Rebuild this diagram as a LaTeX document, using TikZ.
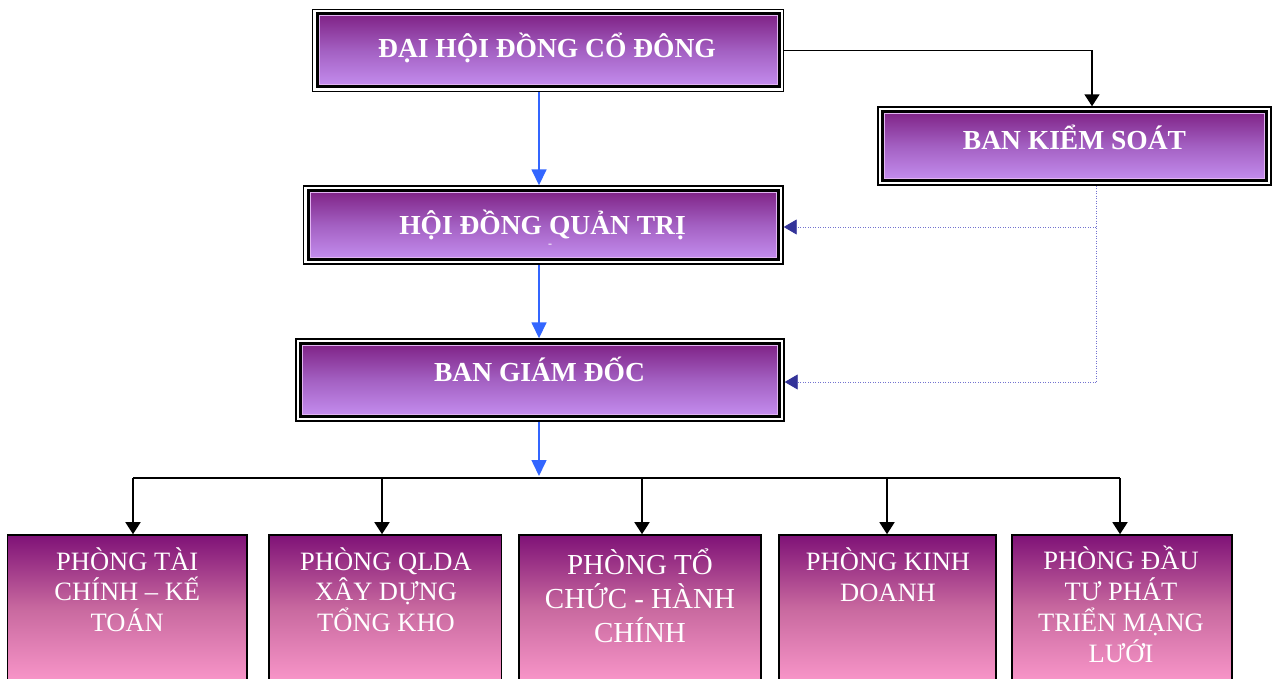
\documentclass[tikz,border=0pt]{standalone}
\usepackage{fontspec}
\setmainfont{Liberation Serif}
\usetikzlibrary{arrows.meta,calc}
\definecolor{tpA}{HTML}{7A1A7E}
\definecolor{tpM}{HTML}{A360C2}
\definecolor{tpB}{HTML}{C994F5}
\definecolor{dpA}{HTML}{7F1277}
\definecolor{dpM}{HTML}{C8699F}
\definecolor{dpB}{HTML}{F996C9}
\definecolor{lilacl}{HTML}{E2B4F2}
\definecolor{blu}{HTML}{3366FF}
\definecolor{navyc}{HTML}{333399}
\definecolor{dotc}{HTML}{7373D0}
\begin{document}
\begin{tikzpicture}[x=1pt,y=-1pt,
 topbox/.style={rectangle, draw=black, line width=1.4pt, inner sep=0pt, path picture={
   \shade[top color=tpA, bottom color=tpB, middle color=tpM] ([shift={(5pt,5pt)}]path picture bounding box.south west) rectangle ([shift={(-5pt,-5pt)}]path picture bounding box.north east);
   \draw[lilacl, line width=1pt] ([shift={(6.5pt,6.5pt)}]path picture bounding box.south west) rectangle ([shift={(-6.5pt,-6.5pt)}]path picture bounding box.north east);
   \draw[black, line width=3pt] ([shift={(4.5pt,4.5pt)}]path picture bounding box.south west) rectangle ([shift={(-4.5pt,-4.5pt)}]path picture bounding box.north east);
 }},
 toptext/.style={text=white, font=\fontsize{27.5}{33}\selectfont\bfseries, inner sep=0pt, anchor=base},
 dept/.style={rectangle, draw=black, line width=1.6pt, inner sep=0pt, top color=dpA, bottom color=dpB, middle color=dpM, minimum height=147pt},
 depttext/.style={text=white, align=center, inner sep=0pt, anchor=north, font=\fontsize{26.5}{30.5}\selectfont},
 blk/.style={draw=black, line width=1.6pt, -{Triangle[width=15pt,length=12pt]}},
 bluarr/.style={draw=blu, line width=1.6pt, -{Triangle[width=15pt,length=16pt]}},
 dotl/.style={draw=dotc, line width=0.8pt, dash pattern=on 1pt off 1.5pt},
 dotarr/.style={dotl, -{Triangle[width=15pt,length=13pt,color=navyc]}}
]
\useasboundingbox (0,0) rectangle (1273,679);
\clip (0,0) rectangle (1273,679);

% top boxes
\node[topbox, minimum width=471pt, minimum height=82pt] (dh) at (548,50.5) {};
\node[topbox, minimum width=393pt, minimum height=78pt] (bks) at (1074.5,146) {};
\node[topbox, minimum width=479.5pt, minimum height=78pt] (hq) at (543.25,225) {};
\node[topbox, minimum width=488pt, minimum height=82pt] (bg) at (540,380) {};

\node[toptext] (dhT) at (547,58) {ĐẠI HỘI ĐỒNG CỔ ĐÔNG};
\node[toptext] (bksT) at (1074.5,150) {BAN KIỂM SOÁT};
\node[toptext] (hqT) at (542.5,234) {HỘI ĐỒNG QUẢN TRỊ};
\node[text=white, inner sep=0pt, font=\fontsize{12}{12}\selectfont] (hqD) at (550,246) {-};
\node[toptext] (bgT) at (539.5,381) {BAN GIÁM ĐỐC};

% department boxes
\node[dept, minimum width=239.5pt] (d1) at (127.25,608.5) {};
\node[dept, minimum width=232.7pt] (d2) at (385.3,608.5) {};
\node[dept, minimum width=242pt] (d3) at (640,608.5) {};
\node[dept, minimum width=217pt] (d4) at (887.5,608.5) {};
\node[dept, minimum width=220pt] (d5) at (1122,608.5) {};

\node[depttext] (d1T) at (127.25,544) {\rule{0pt}{26pt}PHÒNG TÀI\\CHÍNH – KẾ\\TOÁN};
\node[depttext] (d2T) at (386,544) {\rule{0pt}{26pt}PHÒNG QLDA\\XÂY DỰNG\\TỔNG KHO};
\node[depttext, font=\fontsize{29}{34}\selectfont] (d3T) at (640,544) {\rule{0pt}{30pt}PHÒNG TỔ\\CHỨC - HÀNH\\CHÍNH};
\node[depttext, font=\fontsize{26.5}{31.5}\selectfont] (d4T) at (888,544) {\rule{0pt}{26pt}PHÒNG KINH\\DOANH};
\node[depttext, font=\fontsize{26.5}{31}\selectfont] (d5T) at (1121,543) {\rule{0pt}{26pt}PHÒNG ĐẦU\\TƯ PHÁT\\TRIỂN MẠNG\\LƯỚI};

% connectors
\coordinate (ax) at (539,0);
\draw[blk] (dh.east) -| ([xshift=17.5pt]bks.north);
\draw[bluarr] (dh.south -| ax) -- (hq.north -| ax);
\draw[bluarr] (hq.south -| ax) -- (bg.north -| ax);

\coordinate (busL) at (133,478);
\coordinate (busR) at (1120,478);
\draw[bluarr, shorten >=2pt] (bg.south -| ax) -- (busL -| ax);
\draw[black, line width=1.6pt] (busL) -- (busR);
\coordinate (b2) at (382,478);
\coordinate (b3) at (642,478);
\coordinate (b4) at (887,478);
\draw[blk] (busL) -- (busL |- d1.north);
\draw[blk] (b2) -- (b2 |- d2.north);
\draw[blk] (b3) -- (b3 |- d3.north);
\draw[blk] (b4) -- (b4 |- d4.north);
\draw[blk] (busR) -- (busR |- d5.north);

\coordinate (k1) at (1096,227);
\coordinate (k2) at (1096,382);
\draw[dotl] (bks.south -| k1) -- (k2);
\draw[dotarr] (k1) -- (k1 -| hq.east);
\draw[dotarr] (k2) -- (k2 -| bg.east);
\end{tikzpicture}
\end{document}
